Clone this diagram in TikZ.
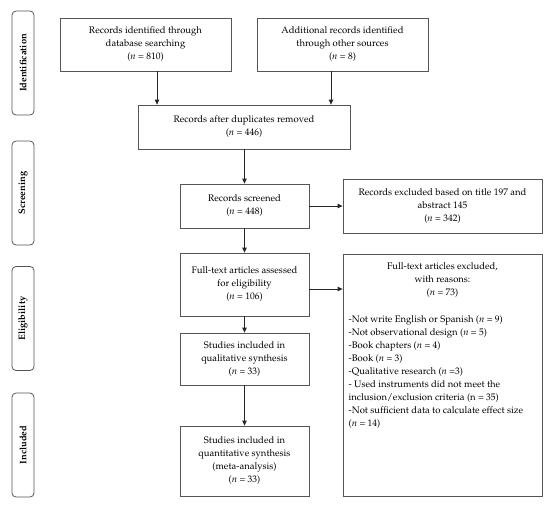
\documentclass[tikz,border=0pt]{standalone}
\usepackage[T1]{fontenc}
\usepackage{mathpazo}
\usetikzlibrary{arrows.meta}
\begin{document}
\begin{tikzpicture}[x=1pt,y=-1pt,
  box/.style={draw=boxgray,line width=0.8pt,inner sep=0pt,align=center,
    font=\fontsize{9.5}{13}\selectfont},
  side/.style={draw=boxgray,line width=0.8pt,rounded corners=4pt,minimum width=22pt,
    minimum height=104pt,inner sep=0pt},
  sidetext/.style={rotate=90,font=\fontsize{9.4}{10}\selectfont\bfseries},
  arr/.style={draw=black!85,line width=0.8pt,-{Triangle[length=5pt,width=4.5pt]}},
  txt/.style={inner sep=0pt,font=\fontsize{9.5}{13}\selectfont}]
\definecolor{boxgray}{HTML}{555555}
\useasboundingbox (0,0) rectangle (550,507);
% side labels
\node[side] (s1) at (23,63) {};
\node[sidetext] (t1) at (s1.center) {Identification};
\node[side] (s2) at (23,193) {};
\node[sidetext] (t2) at (s2.center) {Screening};
\node[side] (s3) at (23,318.5) {};
\node[sidetext] (t3) at (s3.center) {Eligibility};
\node[side] (s4) at (23,445) {};
\node[sidetext] (t4) at (s4.center) {Included};
% boxes
\node[box,minimum width=171pt,minimum height=53pt] (b1) at (145.5,44.5)
  {Records identified through\\database searching\\(\textit{n} = 810)};
\node[box,minimum width=171pt,minimum height=53pt] (b2) at (342.5,44.5)
  {Additional records identified\\through other sources\\(\textit{n} = 8)};
\node[box,minimum width=212pt,minimum height=44pt] (b3) at (244,127)
  {Records after duplicates removed\\(\textit{n} = 446)};
\node[box,minimum width=129pt,minimum height=44pt] (b4) at (244.5,206)
  {Records screened\\(\textit{n} = 448)};
\node[box,minimum width=199pt,minimum height=54pt] (e1) at (442.5,206)
  {Records excluded based on title 197 and\\abstract 145\\(\textit{n} = 342)};
\node[box,minimum width=129pt,minimum height=63pt] (b5) at (244.5,284.5)
  {Full-text articles assessed\\for eligibility\\(\textit{n} = 106)};
\node[box,minimum width=199pt,minimum height=242pt] (e2) at (442.5,375) {};
\node[txt,anchor=north,align=center] (e2h) at (442.5,262)
  {Full-text articles excluded,\\with reasons:\\(\textit{n} = 73)};
\node[txt,anchor=north west,align=left] (e2l) at (348.5,315.5)
  {-Not write English or Spanish (\textit{n} = 9)\\
   -Not observational design (\textit{n} = 5)\\
   -Book chapters (\textit{n} = 4)\\
   -Book (\textit{n} = 3)\\
   -Qualitative research (\textit{n} =3)\\
   - Used instruments did not meet the\\
   inclusion/exclusion criteria (n = 35)\\
   -Not sufficient data to calculate effect size\\
   (\textit{n} = 14)};
\node[box,minimum width=129pt,minimum height=52pt] (b6) at (244.5,359)
  {Studies included in\\qualitative synthesis\\(\textit{n} = 33)};
\node[box,minimum width=129pt,minimum height=70pt] (b7) at (244.5,461)
  {Studies included in\\quantitative synthesis\\(meta-analysis)\\(\textit{n} = 33)};
% connectors
\draw[arr] ([xshift=11.5pt]b1.south) -- ([xshift=11.5pt]b1.south |- b3.north);
\draw[arr] ([xshift=-11.5pt]b2.south) -- ([xshift=-11.5pt]b2.south |- b3.north);
\draw[arr] (b3.south -| b4.north) -- (b4.north);
\draw[arr] (b4.east) -- (e1.west);
\draw[arr] (b4.south) -- (b5.north);
\draw[arr] ([yshift=-4.5pt]b5.east) -- ([yshift=-4.5pt]b5.east -| e2.west);
\draw[arr] (b5.south) -- (b6.north);
\draw[arr] (b6.south) -- (b7.north);
\end{tikzpicture}
\end{document}
